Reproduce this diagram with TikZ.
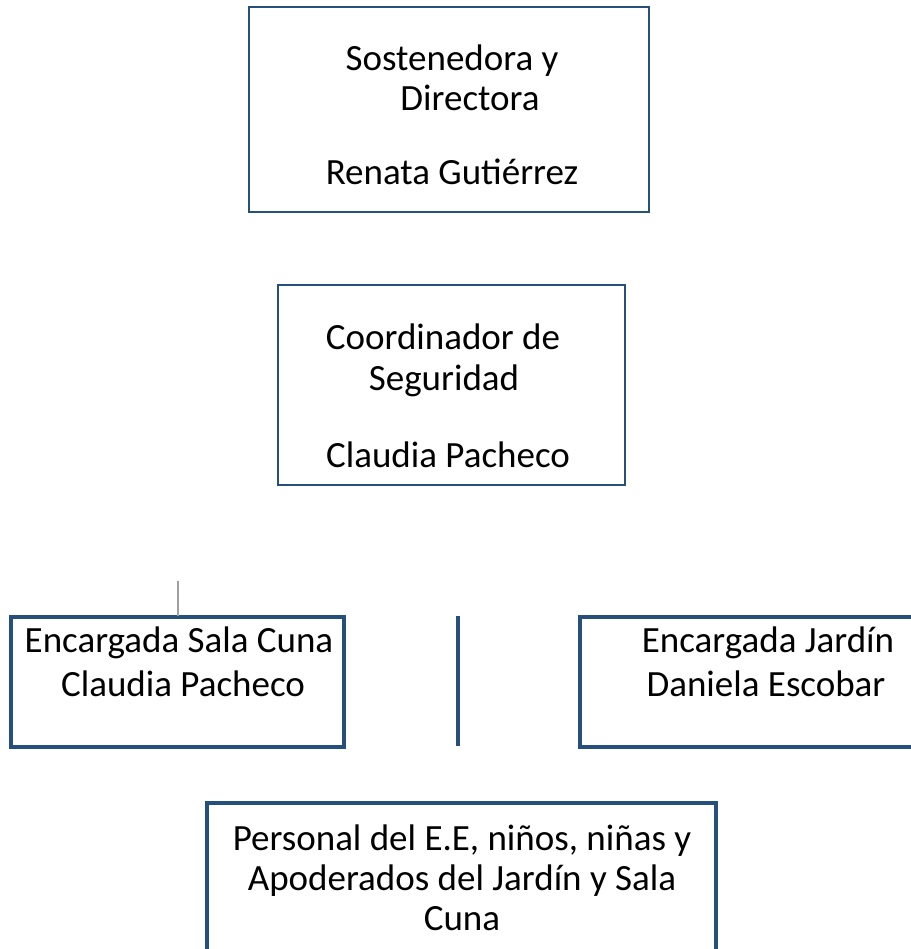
\documentclass[tikz,border=0pt]{standalone}
\usepackage{fontspec}
\setmainfont{Carlito}
\definecolor{boxblue}{RGB}{37,80,124}
\definecolor{linegray}{RGB}{160,160,160}
\begin{document}
\begin{tikzpicture}[x=1pt,y=-1pt,
  orgbox/.style={draw=boxblue,line width=3.2pt},
  topbox/.style={draw=boxblue,line width=2.4pt},
  lbl/.style={anchor=base,inner sep=0pt,font=\fontsize{37}{40}\selectfont,text=black}]
\useasboundingbox (0,0) rectangle (910,949);
% boxes
\draw[topbox] (249,7) rectangle (649,212);
\node[inner sep=0pt] (top) at (449,109.5) {};
\draw[topbox] (278,285) rectangle (625,485);
\node[inner sep=0pt] (coord) at (451.5,385) {};
\draw[orgbox] (11,617) rectangle (344,747);
\node[inner sep=0pt] (sala) at (177.5,682) {};
\draw[orgbox] (913,617) -- (580,617) -- (580,747) -- (913,747);
\node[inner sep=0pt] (jardin) at (745,682) {};
\draw[orgbox] (207,955) -- (207,803) -- (716,803) -- (716,955);
\node[inner sep=0pt] (pers) at (461.5,880) {};
% lines
\coordinate (gtop) at (178,581);
\coordinate (gbot) at (178,616);
\draw[linegray,line width=2.8pt] (gtop) -- (gbot);
\coordinate (vtop) at (458,616);
\coordinate (vbot) at (458,746);
\draw[boxblue,line width=3.2pt] (vtop) -- (vbot);
% texts
\node[lbl] (t1) at (452,71) {Sostenedora y};
\node[lbl] (t2) at (470,111) {Directora};
\node[lbl] (t3) at (452,185) {Renata Gutiérrez};
\node[lbl] (c1) at (443,349) {Coordinador de};
\node[lbl] (c2) at (444,390) {Seguridad};
\node[lbl] (c3) at (448,467) {Claudia Pacheco};
\node[lbl] (s1) at (179,652) {Encargada Sala Cuna};
\node[lbl] (s2) at (183,696) {Claudia Pacheco};
\node[lbl] (j1) at (768,652) {Encargada Jardín};
\node[lbl] (j2) at (766,696) {Daniela Escobar};
\node[lbl] (p1) at (462,850) {Personal del E.E, niños, niñas y};
\node[lbl] (p2) at (462,890) {Apoderados del Jardín y Sala};
\node[lbl] (p3) at (462,930) {Cuna};
\end{tikzpicture}
\end{document}
